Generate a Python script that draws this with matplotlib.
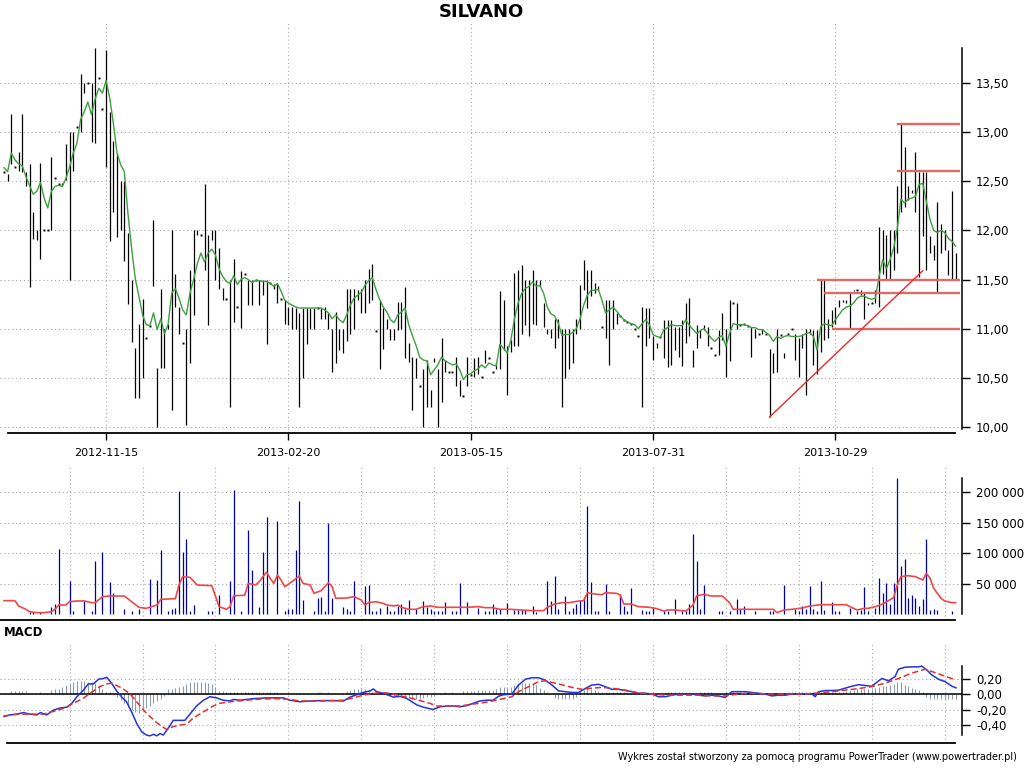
import matplotlib
matplotlib.use("Agg")
import matplotlib.pyplot as plt
import numpy as np

# ---------------- data (x = session index) ----------------
date_ticks = [28, 78, 128, 178, 228]
date_labels = ["2012-11-15", "2013-02-20", "2013-05-15", "2013-07-31", "2013-10-29"]

high = [
    12.60, 12.58, 13.19, 12.65, 12.80, 13.19, 12.60, 12.68, 12.19, 12.00,
    12.69, 12.00, 12.00, 12.75, 12.53, 12.47, 12.48, 12.88, 13.00, 13.00,
    13.05, 13.60, 13.50, 13.50, 13.50, 13.86, 13.55, 13.24, 13.84, 13.21,
    12.91, 12.79, 12.50, 12.50, 11.97, 11.50, 10.80, 11.05, 11.30, 10.90,
    11.03, 12.11, 10.60, 11.40, 11.00, 11.05, 12.00, 11.56, 11.22, 10.85,
    11.00, 11.60, 12.00, 12.00, 11.95, 12.47, 11.95, 12.00, 12.00, 11.82,
    11.41, 11.30, 11.50, 11.71, 11.22, 11.59, 11.56, 11.50, 11.50, 11.50,
    11.50, 11.50, 11.50, 11.46, 11.45, 11.45, 11.30, 11.29, 11.22, 11.22,
    11.21, 11.16, 11.21, 11.21, 11.21, 11.21, 11.21, 11.21, 11.22, 11.16,
    11.00, 11.17, 11.00, 11.00, 11.40, 11.40, 11.40, 11.39, 11.40, 11.50,
    11.61, 11.66, 10.98, 11.29, 11.21, 11.10, 11.00, 11.00, 11.27, 11.27,
    11.42, 10.85, 10.71, 10.70, 10.41, 10.59, 10.68, 10.37, 10.70, 10.59,
    10.90, 10.68, 10.56, 10.56, 10.71, 10.48, 10.31, 10.71, 10.53, 10.70,
    10.71, 10.51, 10.78, 10.70, 10.56, 10.65, 11.38, 11.29, 10.82, 10.88,
    11.57, 11.60, 11.65, 11.50, 11.50, 11.60, 11.50, 11.50, 11.26, 11.00,
    11.00, 11.10, 11.10, 11.00, 11.00, 11.00, 11.00, 11.10, 11.44, 11.70,
    11.60, 11.60, 11.46, 11.43, 11.02, 11.29, 11.29, 11.29, 11.16, 11.13,
    11.09, 11.07, 11.05, 11.00, 10.92, 11.22, 11.21, 11.21, 10.92, 10.85,
    10.91, 11.09, 11.09, 11.09, 11.02, 11.02, 11.09, 11.26, 11.31, 10.78,
    11.04, 10.99, 11.04, 11.02, 10.80, 10.73, 10.99, 11.16, 11.00, 11.29,
    11.26, 11.26, 11.04, 11.05, 11.03, 11.02, 11.00, 10.95, 11.00, 10.95,
    10.79, 10.75, 11.00, 10.93, 10.75, 10.95, 11.00, 10.95, 10.90, 10.95,
    11.00, 11.00, 10.99, 10.99, 11.50, 11.50, 11.10, 11.19, 11.22, 11.29,
    11.29, 11.29, 11.36, 11.39, 11.39, 11.39, 11.36, 11.26, 11.26, 11.39,
    12.04, 12.00, 11.95, 12.00, 12.00, 12.45, 13.09, 12.85, 12.45, 12.41,
    12.80, 12.60, 12.60, 12.60, 11.94, 11.85, 12.29, 12.07, 12.00, 11.80,
    12.40, 11.77,
]
low = [
    12.60, 12.50, 12.68, 12.65, 12.61, 12.60, 12.45, 11.42, 11.91, 11.90,
    11.71, 12.00, 12.00, 12.00, 12.53, 12.47, 12.45, 12.51, 11.50, 12.61,
    13.05, 13.00, 13.40, 13.50, 12.90, 12.89, 13.55, 13.24, 12.65, 11.89,
    12.19, 11.93, 12.00, 11.69, 11.25, 10.86, 10.29, 10.29, 10.50, 10.90,
    11.03, 11.43, 10.00, 10.60, 10.60, 11.00, 10.17, 11.22, 10.95, 10.85,
    10.02, 10.65, 11.14, 11.95, 11.95, 11.60, 11.04, 11.90, 11.50, 11.40,
    11.29, 11.30, 10.20, 11.07, 11.22, 11.01, 11.56, 11.24, 11.24, 11.50,
    11.24, 11.34, 10.84, 11.46, 11.40, 11.26, 11.30, 11.05, 11.04, 11.00,
    11.00, 10.20, 10.50, 10.84, 11.00, 11.00, 11.21, 11.10, 11.10, 11.00,
    10.56, 10.65, 10.78, 10.75, 10.87, 10.95, 11.00, 11.29, 11.16, 11.16,
    11.26, 11.29, 10.98, 10.59, 10.79, 11.00, 10.88, 10.88, 10.99, 11.00,
    10.70, 10.66, 10.17, 10.50, 10.41, 10.00, 10.20, 10.20, 10.66, 10.00,
    10.25, 10.56, 10.56, 10.56, 10.41, 10.31, 10.31, 10.41, 10.53, 10.51,
    10.54, 10.51, 10.65, 10.70, 10.56, 10.59, 10.59, 10.78, 10.32, 10.76,
    10.82, 10.82, 10.95, 11.04, 10.92, 11.05, 11.04, 11.43, 11.02, 10.95,
    10.90, 10.80, 10.90, 10.20, 10.50, 10.59, 10.65, 10.95, 11.00, 11.39,
    11.21, 11.33, 11.36, 11.39, 11.02, 10.90, 10.63, 11.00, 11.05, 11.13,
    11.09, 11.07, 11.05, 11.00, 10.92, 10.20, 10.82, 10.90, 10.68, 10.80,
    10.91, 10.70, 10.61, 10.63, 10.78, 10.71, 10.62, 10.85, 10.92, 10.61,
    10.80, 10.90, 10.99, 10.82, 10.80, 10.73, 10.73, 10.88, 10.51, 10.67,
    11.26, 11.00, 11.04, 11.05, 11.03, 10.71, 10.90, 10.95, 10.95, 10.95,
    10.10, 10.55, 10.56, 10.93, 10.70, 10.95, 11.00, 10.68, 10.51, 10.80,
    10.32, 10.95, 10.63, 10.54, 10.76, 10.88, 10.90, 11.02, 11.05, 11.22,
    11.27, 11.26, 11.00, 11.38, 11.39, 11.34, 11.10, 11.24, 11.26, 11.26,
    11.22, 11.56, 11.50, 11.50, 11.60, 11.77, 12.19, 12.24, 12.31, 12.38,
    12.19, 11.53, 11.94, 11.60, 11.77, 11.70, 11.36, 11.77, 11.80, 11.55,
    11.51, 11.51,
]
price_ma = [
    12.64, 12.60, 12.79, 12.72, 12.68, 12.66, 12.55, 12.46, 12.37, 12.40,
    12.49, 12.33, 12.23, 12.40, 12.45, 12.46, 12.45, 12.53, 12.65, 12.79,
    12.89, 13.13, 13.21, 13.31, 13.18, 13.34, 13.45, 13.40, 13.53, 13.35,
    13.09, 12.79, 12.67, 12.60, 12.17, 11.82, 11.51, 11.33, 11.14, 11.04,
    11.03, 11.16, 10.99, 11.10, 10.95, 11.04, 11.36, 11.41, 11.31, 11.19,
    11.14, 11.36, 11.50, 11.66, 11.77, 11.68, 11.77, 11.81, 11.75, 11.61,
    11.53, 11.48, 11.46, 11.54, 11.45, 11.50, 11.52, 11.50, 11.47, 11.49,
    11.49, 11.48, 11.48, 11.46, 11.43, 11.46, 11.38, 11.29, 11.26, 11.24,
    11.22, 11.21, 11.21, 11.21, 11.21, 11.21, 11.21, 11.21, 11.19, 11.16,
    11.10, 11.14, 11.09, 11.06, 11.14, 11.24, 11.31, 11.34, 11.37, 11.44,
    11.49, 11.52, 11.40, 11.30, 11.22, 11.17, 11.09, 11.06, 11.14, 11.17,
    11.21, 11.04, 10.93, 10.83, 10.71, 10.68, 10.67, 10.53, 10.58, 10.63,
    10.71, 10.67, 10.65, 10.63, 10.64, 10.58, 10.48, 10.53, 10.54, 10.57,
    10.59, 10.63, 10.60, 10.65, 10.63, 10.62, 10.84, 10.80, 10.75, 10.88,
    11.10, 11.26, 11.36, 11.41, 11.43, 11.48, 11.43, 11.44, 11.36, 11.22,
    11.15, 11.13, 11.06, 10.93, 10.94, 10.94, 10.96, 11.00, 11.10, 11.24,
    11.34, 11.39, 11.39, 11.40, 11.29, 11.16, 11.19, 11.22, 11.18, 11.13,
    11.09, 11.07, 11.05, 11.04, 11.00, 11.05, 11.09, 11.04, 10.94, 10.92,
    10.91, 10.99, 11.01, 11.04, 11.03, 11.03, 11.03, 11.09, 11.03, 10.99,
    10.95, 10.98, 11.00, 10.95, 10.90, 10.87, 10.91, 10.93, 10.82, 10.95,
    11.05, 11.04, 11.04, 11.04, 11.03, 11.01, 11.01, 10.99, 10.99, 10.96,
    10.93, 10.87, 10.92, 10.90, 10.92, 10.93, 10.92, 10.92, 10.92, 10.93,
    10.95, 10.96, 10.92, 10.78, 11.02, 11.05, 11.04, 11.03, 11.09, 11.14,
    11.19, 11.22, 11.23, 11.26, 11.31, 11.33, 11.33, 11.31, 11.30, 11.31,
    11.53, 11.70, 11.61, 11.70, 11.82, 12.02, 12.32, 12.28, 12.32, 12.33,
    12.35, 12.47, 12.48, 12.29, 12.11, 12.00, 11.98, 12.00, 11.98, 11.92,
    11.89, 11.84,
]

# user-drawn lines on the price panel
level_start = [245, 245, 223, 225, 227]
level_price = [13.09, 12.61, 11.50, 11.36, 11.00]
trend_x = [210, 252]
trend_y = [10.10, 11.59]

volume = [
    0, 0, 0, 0, 0, 0, 0, 3800, 3800, 0,
    3800, 0, 0, 11000, 16400, 106900, 0, 0, 54300, 4900,
    0, 0, 23000, 0, 5500, 87700, 0, 102500, 0, 53200,
    35100, 0, 0, 8200, 0, 5500, 0, 8200, 0, 0,
    57500, 0, 55900, 105200, 0, 5500, 8800, 10400, 202800, 102500,
    123300, 4400, 14800, 0, 0, 0, 4900, 4900, 0, 31200,
    0, 0, 54300, 203900, 0, 4900, 0, 138100, 72300, 0,
    11500, 101900, 159500, 0, 0, 152900, 0, 4900, 8200, 8200,
    105200, 185800, 23000, 0, 0, 4900, 26300, 28500, 4900, 150200,
    26300, 0, 0, 11500, 8200, 4900, 54300, 0, 0, 46000,
    47700, 4900, 4900, 10400, 0, 13200, 4900, 4900, 13200, 16400,
    8200, 23000, 0, 8200, 0, 20800, 12100, 8200, 4900, 4900,
    4900, 19700, 0, 4900, 4900, 50400, 0, 19700, 0, 0,
    10400, 0, 4900, 4900, 16400, 8200, 8200, 0, 18600, 0,
    6600, 6600, 6600, 6600, 0, 13200, 3800, 0, 0, 54300,
    21400, 62500, 7700, 0, 29600, 4900, 9300, 16400, 23000, 28500,
    178100, 52100, 4900, 4900, 0, 49300, 4900, 0, 0, 32900,
    13200, 4900, 42700, 0, 0, 6600, 4900, 4900, 12100, 0,
    0, 4900, 4900, 0, 24700, 0, 4900, 4900, 16400, 131500,
    87700, 8800, 47700, 0, 0, 0, 4900, 4900, 0, 4900,
    0, 24700, 8200, 13200, 0, 0, 4900, 0, 0, 0,
    4900, 4900, 0, 0, 47700, 0, 0, 8800, 4900, 13200,
    8800, 46000, 8200, 4900, 54300, 6600, 0, 19700, 4900, 4900,
    0, 0, 10400, 0, 4900, 6600, 44400, 4900, 0, 10400,
    59700, 34500, 51000, 15900, 51000, 223000, 78900, 90400, 26900, 31200,
    26300, 13200, 24700, 123300, 6600, 8200, 6600, 0, 0, 0,
    4900, 0,
]
vol_ma_x = [0, 3, 4, 6, 7, 9, 11, 13, 14, 15, 17, 18, 20, 22, 24, 25, 27, 29, 33, 35,
            37, 39, 42, 43, 45, 47, 48, 49, 51, 53, 57, 59, 61, 62, 63, 66, 67, 69, 70, 72,
            73, 74, 75, 76, 77, 79, 81, 82, 84, 85, 87, 89, 90, 91, 94, 96, 98, 99, 100, 102,
            104, 105, 107, 108, 109, 111, 113, 115, 117, 119, 121, 127, 130, 132, 134, 136, 138, 139, 145, 148,
            149, 151, 153, 155, 157, 159, 160, 162, 164, 165, 168, 169, 170, 172, 174, 177, 179, 181, 182, 184,
            187, 189, 190, 192, 194, 197, 199, 200, 204, 209, 211, 212, 214, 216, 219, 221, 224, 226, 229, 231,
            232, 234, 236, 237, 239, 241, 244, 245, 246, 248, 250, 252, 253, 254, 255, 257, 258, 260, 261]
vol_ma = [21900, 21900, 13200, 7700, 3800, 2200, 2200, 3800, 7700, 14800, 14800, 20300, 21400, 21400, 18600, 18600, 28500, 29600, 29600, 20300,
          11000, 9300, 14800, 24100, 24700, 25200, 47700, 61400, 60300, 47700, 46600, 12100, 7700, 12100, 30100, 30700, 50400, 47700, 53200, 69000,
          58600, 50400, 64100, 55900, 44900, 53200, 62500, 50400, 47700, 34000, 38400, 51500, 44900, 25800, 26300, 28500, 23000, 14800, 18600, 20300,
          17500, 14800, 13200, 14800, 11000, 7700, 7700, 12100, 13200, 11000, 11000, 11000, 12100, 10400, 10400, 7700, 7700, 7700, 5500, 5500,
          11000, 16400, 18600, 18600, 20800, 21900, 35100, 32900, 31800, 35100, 34000, 31200, 16400, 16400, 12100, 11000, 8800, 4900, 6600, 6600,
          4900, 14800, 30100, 32300, 29600, 29600, 18600, 7700, 7700, 7700, 7700, 2200, 6600, 7700, 9900, 13200, 15300, 15300, 15300, 15300,
          12100, 6600, 9300, 9300, 12100, 16400, 26900, 47700, 61400, 63000, 61400, 55900, 66900, 58600, 42200, 25800, 21400, 18600, 18600]

macd_x = [0, 1.6, 3.5, 5.3, 7.1, 9, 10, 11.7, 13.5, 15.4, 17.2, 18.6, 19.9, 21.8, 23.1, 24.5, 25.9, 27.2, 28.2, 29.5,
          30.9, 32.3, 33.6, 35.0, 36.4, 37.8, 39.1, 40.0, 41.0, 41.9, 42.8, 43.7, 44.6, 45.5, 46.4, 48.3, 49.6, 51.0, 52.8, 54.7,
          56.5, 58.3, 60.1, 62.0, 62.9, 64.7, 68.4, 72.0, 74.8, 76.6, 78.4, 81.2, 83.9, 86.7, 90.3, 93.1, 94.9, 96.7, 98.5, 100.4,
          101.3, 102.2, 104.0, 106.8, 108.6, 110.4, 113.2, 115.0, 116.8, 117.7, 119.6, 121.4, 123.2, 125.0, 126.9, 128.7, 130.5, 132.4, 134.2, 135.6,
          136.9, 139.3, 141.1, 143.0, 144.8, 146.6, 148.4, 150.3, 152.1, 153.9, 155.8, 157.6, 159.4, 161.2, 163.1, 164.9, 166.7, 168.6, 170.4, 172.2,
          174.0, 175.9, 177.7, 179.5, 181.4, 183.2, 185.0, 186.9, 188.7, 190.5, 192.3, 194.1, 196.0, 197.8, 199.6, 201.5, 203.3, 205.1, 206.9, 208.8,
          210.6, 212.4, 214.3, 216.1, 219.8, 221.6, 222.5, 223.4, 225.2, 227.1, 228.9, 230.7, 232.5, 234.4, 236.2, 238.0, 239.9, 240.8, 242.6, 244.4,
          245.3, 247.1, 249.0, 250.8, 251.7, 253.1, 254.5, 256.3, 258.1, 260.0, 261.1]
macd = [-0.29, -0.27, -0.26, -0.24, -0.26, -0.27, -0.24, -0.27, -0.21, -0.18, -0.17, -0.12, -0.04, 0.05, 0.13, 0.13, 0.19, 0.20, 0.215, 0.14,
        0.04, -0.04, -0.10, -0.23, -0.38, -0.49, -0.53, -0.54, -0.52, -0.54, -0.51, -0.53, -0.47, -0.41, -0.34, -0.34, -0.34, -0.26, -0.155, -0.08,
        -0.035, -0.05, -0.08, -0.09, -0.07, -0.08, -0.06, -0.05, -0.05, -0.05, -0.08, -0.10, -0.09, -0.085, -0.085, -0.09, -0.04, -0.01, 0.02, 0.04,
        0.065, 0.03, 0.01, -0.04, -0.03, -0.055, -0.14, -0.17, -0.19, -0.20, -0.165, -0.155, -0.155, -0.165, -0.15, -0.12, -0.09, -0.08, -0.08, -0.03,
        -0.01, 0.0, 0.115, 0.19, 0.21, 0.21, 0.18, 0.115, 0.04, 0.03, 0.02, 0.02, 0.07, 0.115, 0.125, 0.095, 0.06, 0.06, 0.045, 0.03,
        0.01, 0.01, 0.0, -0.035, -0.035, -0.015, 0.0, 0.0, 0.0, -0.015, -0.025, -0.015, -0.025, -0.045, 0.03, 0.03, 0.03, 0.02, 0.01, 0.0,
        -0.025, -0.015, -0.015, 0.0, 0.0, 0.0, -0.035, 0.03, 0.045, 0.045, 0.05, 0.075, 0.10, 0.12, 0.11, 0.10, 0.17, 0.20, 0.17, 0.225,
        0.32, 0.345, 0.35, 0.35, 0.36, 0.31, 0.245, 0.19, 0.16, 0.10, 0.08]

signal_x = [0, 3.5, 7.1, 10.8, 12.6, 14.4, 17.2, 19.0, 21.8, 23.6, 26.3, 28.2, 29.5, 30.9, 32.7, 34.6, 36.4, 38.2, 40.0, 41.9,
            43.7, 44.6, 46.4, 48.3, 50.1, 51.9, 54.7, 57.4, 59.2, 62.9, 66.5, 70.2, 74.8, 78.4, 81.2, 86.7, 90.3, 93.1, 95.8, 98.5,
            100.4, 103.1, 105.8, 108.6, 111.3, 114.1, 116.8, 118.6, 121.4, 125.0, 128.7, 132.4, 136.0, 139.3, 141.1, 144.8, 146.6, 148.4, 152.1, 155.8,
            158.5, 161.2, 164.0, 166.7, 170.4, 174.0, 177.7, 181.4, 185.0, 190.5, 194.1, 197.8, 201.5, 205.1, 208.8, 212.4, 216.1, 219.8, 223.4, 227.1,
            230.7, 234.4, 238.0, 241.7, 245.3, 249.0, 252.6, 255.4, 258.1, 261.1]
signal = [-0.285, -0.26, -0.26, -0.26, -0.235, -0.215, -0.17, -0.12, -0.055, 0.01, 0.095, 0.13, 0.14, 0.11, 0.065, 0.0, -0.10, -0.205, -0.29, -0.37,
          -0.43, -0.455, -0.42, -0.40, -0.39, -0.31, -0.23, -0.155, -0.12, -0.095, -0.08, -0.065, -0.06, -0.07, -0.09, -0.09, -0.085, -0.08, -0.05, -0.015,
          0.0, 0.02, 0.01, -0.025, -0.05, -0.085, -0.12, -0.155, -0.155, -0.155, -0.13, -0.105, -0.07, -0.035, 0.03, 0.115, 0.16, 0.17, 0.13, 0.085,
          0.06, 0.075, 0.085, 0.075, 0.05, 0.015, 0.0, -0.015, -0.015, -0.015, -0.025, -0.025, 0.0, 0.01, 0.0, 0.0, 0.0, 0.0, 0.015, 0.03,
          0.05, 0.07, 0.095, 0.14, 0.20, 0.27, 0.32, 0.275, 0.23, 0.18]

hist = [
    0, 0, .04, .04, .04, .04, .04, 0, 0, 0,
    .03, 0, 0, .05, .06, .07, .09, .11, .14, .16,
    .17, .17, .17, .16, .15, .14, .12, .07, .03, .02,
    0, -.04, -.08, -.12, -.17, -.21, -.23, -.24, -.21, -.18,
    -.15, -.12, -.09, -.06, -.03, .07, .07, .08, .09, .10,
    .13, .15, .16, .16, .16, .15, .14, .13, .09, .04,
    .04, .03, .03, .03, .03, .02, .03, .03, .03, .03,
    .03, .03, .03, .03, .02, .02, 0, 0, 0, 0,
    0, 0, 0, 0, 0, 0, .02, .03, 0, .03,
    0, 0, 0, 0, .04, .05, .06, .065, .07, .065,
    .05, .03, .01, .01, .01, .01, -.03, -.035, -.04, -.045,
    -.05, -.055, -.06, -.065, -.06, -.055, -.045, -.04, -.03, 0,
    0, .03, 0, .03, 0, 0, .04, .04, .04, .045,
    .05, .05, .05, .05, .055, .07, .085, .09, .09, .09,
    .11, .13, .14, .14, .14, .13, .12, .08, .05, .03,
    0, -.05, -.07, -.07, -.07, -.07, -.06, -.04, .03, .05,
    .06, .06, .05, .04, .02, .02, .02, .02, .02, .02,
    .02, .01, .01, .01, .01, .01, .01, .01, 0, 0,
    0, 0, .02, .02, .02, .02, .02, .02, .02, .01,
    .01, .02, .02, .02, .02, 0, 0, 0, .03, .03,
    .03, .03, .03, .03, .03, .03, .01, .01, .01, .01,
    .01, .01, .01, .01, .01, .02, .02, .02, .02, .02,
    .02, .02, .02, .02, .02, .02, .02, .02, .02, .02,
    .02, .04, .05, .05, .06, .06, .06, .07, .07, .08,
    .09, .10, .10, .11, .13, .15, .16, .12, .10, .08,
    .07, .05, .03, -.04, -.06, -.06, -.06, -.06, -.06, -.06,
    -.06, -.06,
]

# ---------------- layout (pixel geometry of the 1024x768 canvas) ----------------
W, H = 1024, 768
PX_BAR = 3.646      # pixels per session
X0 = 4              # pixel column of session 0
AX_RIGHT = 962      # pixel column of the right value axis


def rect(top, bottom, left=0, right=AX_RIGHT):
    return [left / W, 1 - bottom / H, (right - left) / W, (bottom - top) / H]


def bar(px):
    return (px - X0) / PX_BAR


GRID = dict(color="#a8a8a8", lw=0.8, ls=(0, (1, 2.5)))
n = np.arange(len(high))
xlim = (bar(0), bar(AX_RIGHT))

fig = plt.figure(figsize=(W / 100, H / 100), dpi=100)


def style(ax, spine_lo, spine_hi, bottom_from):
    ax.set_xlim(*xlim)
    for s in ("top", "left"):
        ax.spines[s].set_visible(False)
    ax.spines["right"].set_bounds(spine_lo, spine_hi)
    ax.spines["right"].set_linewidth(1.1)
    ax.spines["bottom"].set_bounds(bar(bottom_from), bar(955))
    ax.spines["bottom"].set_linewidth(1.3)
    ax.yaxis.tick_right()
    ax.tick_params(axis="y", direction="out", length=6, width=1, pad=4, labelsize=8.5)
    ax.grid(True, **GRID)
    ax.set_axisbelow(True)


# ---- price panel ----
ax1 = fig.add_axes(rect(22, 433))
ax1.set_ylim(9.936, 14.125)
style(ax1, 9.98, 13.86, 8)
yt = np.arange(10.0, 13.51, 0.5)
ax1.set_yticks(yt)
ax1.set_yticklabels([f"{v:.2f}".replace(".", ",") for v in yt])
ax1.set_xticks(date_ticks)
ax1.set_xticklabels(date_labels)
ax1.tick_params(axis="x", length=5, width=1, pad=6, labelsize=8)

ax1.vlines(n, low, high, color="black", lw=0.9)
dots = [i for i in n if high[i] == low[i]]
ax1.plot(dots, [high[i] for i in dots], "s", color="black", ms=1.4, mew=0)
ax1.plot(n, price_ma, color="#3f9f3f", lw=1.0)
for s, p in zip(level_start, level_price):
    ax1.plot([s, bar(960)], [p, p], color="#e06a6a", lw=1.7, solid_capstyle="butt")
ax1.plot(trend_x, trend_y, color="#f02828", lw=1.0)

# ---- volume panel ----
ax2 = fig.add_axes(rect(466, 620))
ax2.set_ylim(-9870, 243400)
style(ax2, 0, 223700, 0)
vt = [50000, 100000, 150000, 200000]
ax2.set_yticks(vt)
ax2.set_yticklabels([f"{v:,}".replace(",", " ") for v in vt])
ax2.set_xticks(np.arange(18, 262, 20))
ax2.tick_params(axis="x", length=0, labelbottom=False)
ax2.vlines(n, 0, volume, color="#0000a8", lw=0.9)
ax2.plot(vol_ma_x, vol_ma, color="#f04848", lw=1.2)

# ---- MACD panel ----
ax3 = fig.add_axes(rect(643, 743.3))
ax3.set_ylim(-0.636, 0.658)
style(ax3, -0.53, 0.365, 7)
mt = [0.2, 0.0, -0.2, -0.4]
ax3.set_yticks(mt)
ax3.set_yticklabels([f"{v:.2f}".replace(".", ",") for v in mt])
ax3.set_xticks(np.arange(18, 262, 20))
ax3.tick_params(axis="x", length=0, labelbottom=False)
ax3.vlines(n, 0, hist, color="#8d9ca6", lw=0.8)
ax3.axhline(0, color="black", lw=1.1)
ax3.plot(macd_x, macd, color="#2233e0", lw=1.1)
ax3.plot(signal_x, signal, color="#e53030", lw=1.1, ls=(0, (4, 2)))

# ---- texts ----
fig.text(481 / W, 1 - 12 / H, "SILVANO", ha="center", va="center",
         fontsize=13, fontweight="bold")
fig.text(4 / W, 1 - 632 / H, "MACD", ha="left", va="center",
         fontsize=8.5, fontweight="bold")
fig.text(1017 / W, 1 - 757 / H,
         "Wykres został stworzony za pomocą programu PowerTrader (www.powertrader.pl)",
         ha="right", va="center", fontsize=7)

fig.savefig("out.png", dpi=100)
